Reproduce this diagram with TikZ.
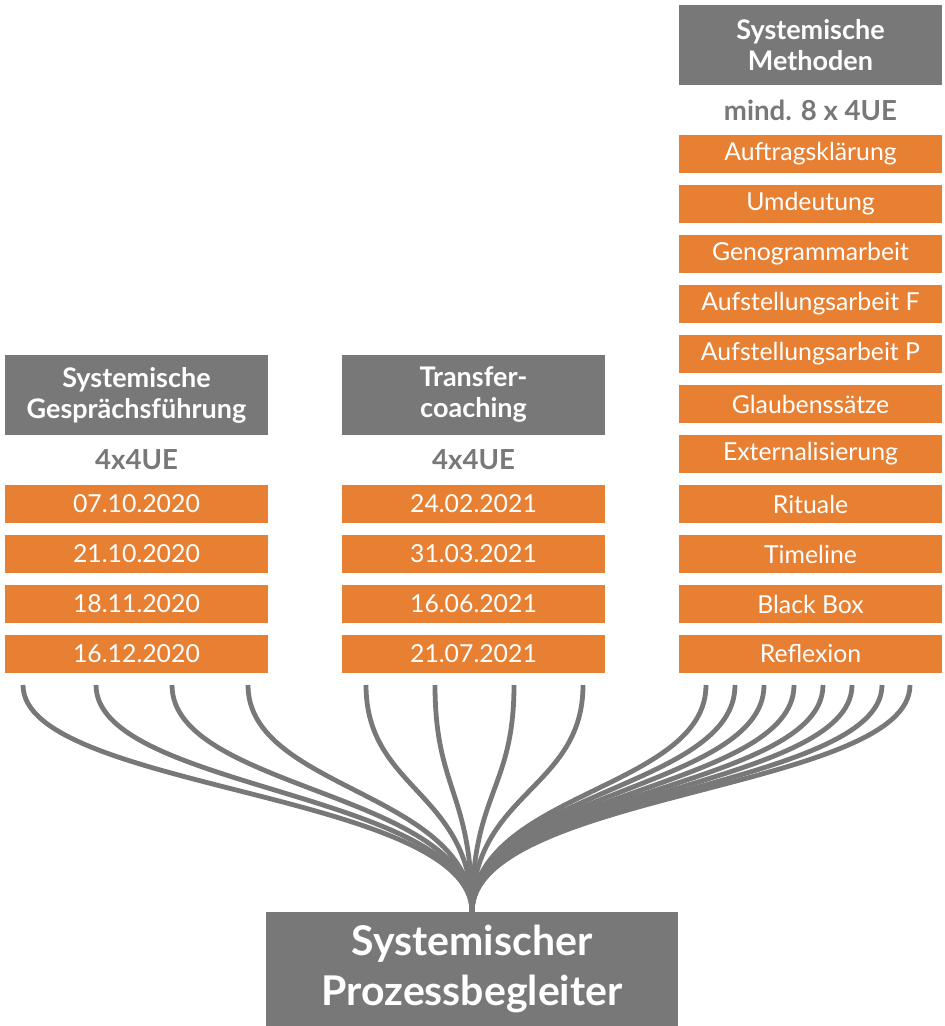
\documentclass[tikz,border=0pt]{standalone}
\usepackage{fontspec}
\setmainfont{Lato}
\usepackage{xcolor}
\usepackage{tikz}
\usetikzlibrary{positioning}
\definecolor{boxgray}{RGB}{120,120,120}
\definecolor{slotorange}{RGB}{232,128,51}
\tikzset{
  hdr/.style={fill=boxgray,text=white,align=center,inner sep=0pt,outer sep=0pt,minimum width=131.5pt,minimum height=40pt,font=\fontsize{13.5}{15.5}\selectfont\bfseries},
  unit/.style={text=boxgray,inner sep=0pt,outer sep=0pt,minimum height=25pt,font=\fontsize{13.8}{15}\selectfont\bfseries},
  slot/.style={fill=slotorange,text=white,inner sep=0pt,outer sep=0pt,minimum width=131.5pt,minimum height=19pt,font=\fontsize{12.4}{14}\selectfont},
  goal/.style={fill=boxgray,text=white,align=center,inner sep=0pt,outer sep=0pt,minimum width=206pt,minimum height=57pt,font=\fontsize{20.5}{25}\selectfont\bfseries},
  wire/.style={draw=boxgray,line width=2.4pt,out=-90,in=90,out distance=52.5pt,in distance=60pt},
}
\begin{document}
\begin{tikzpicture}[x=0.5pt,y=-0.5pt,node distance=6pt]
  \useasboundingbox (0,0) rectangle (944,1026);
  % column 1
  \node[hdr] (gf) at (136.5,395) {Systemische\\Gesprächsführung};
  \node[unit,below=0pt of gf] (gfu) {4x4UE};
  \node[slot,below=0pt of gfu] (gf1) {07.10.2020};
  \node[slot,below=of gf1] (gf2) {21.10.2020};
  \node[slot,below=of gf2] (gf3) {18.11.2020};
  \node[slot,below=of gf3] (gf4) {16.12.2020};
  % column 2
  \node[hdr] (tc) at (473.5,395) {Transfer-\\coaching};
  \node[unit,below=0pt of tc] (tcu) {4x4UE};
  \node[slot,below=0pt of tcu] (tc1) {24.02.2021};
  \node[slot,below=of tc1] (tc2) {31.03.2021};
  \node[slot,below=of tc2] (tc3) {16.06.2021};
  \node[slot,below=of tc3] (tc4) {21.07.2021};
  % column 3
  \node[hdr] (sm) at (810.5,45) {Systemische\\Methoden};
  \node[unit,below=0pt of sm] (smu) {mind. 8 x 4UE};
  \node[slot,below=0pt of smu] (sm1) {Auftragsklärung};
  \node[slot,below=of sm1] (sm2) {Umdeutung};
  \node[slot,below=of sm2] (sm3) {Genogrammarbeit};
  \node[slot,below=of sm3] (sm4) {Aufstellungsarbeit F};
  \node[slot,below=of sm4] (sm5) {Aufstellungsarbeit P};
  \node[slot,below=of sm5] (sm6) {Glaubenssätze};
  \node[slot,below=of sm6] (sm7) {Externalisierung};
  \node[slot,below=of sm7] (sm8) {Rituale};
  \node[slot,below=of sm8] (sm9) {Timeline};
  \node[slot,below=of sm9] (sm10) {Black Box};
  \node[slot,below=of sm10] (sm11) {Reflexion};
  % goal
  \node[goal] (pb) at (472,969) {Systemischer\\Prozessbegleiter};
  % strands
  \foreach \x [count=\k] in {23,96,172,248} {
    \coordinate (gfs\k) at (\x,685);
    \draw[wire] (gfs\k) to (pb.north);
  }
  \foreach \x [count=\k] in {366,435,514,583} {
    \coordinate (tcs\k) at (\x,685);
    \draw[wire] (tcs\k) to (pb.north);
  }
  \foreach \x [count=\k] in {706,735,764,794,823,852,882,910} {
    \coordinate (sms\k) at (\x,685);
    \draw[wire] (sms\k) to (pb.north);
  }
\end{tikzpicture}
\end{document}
